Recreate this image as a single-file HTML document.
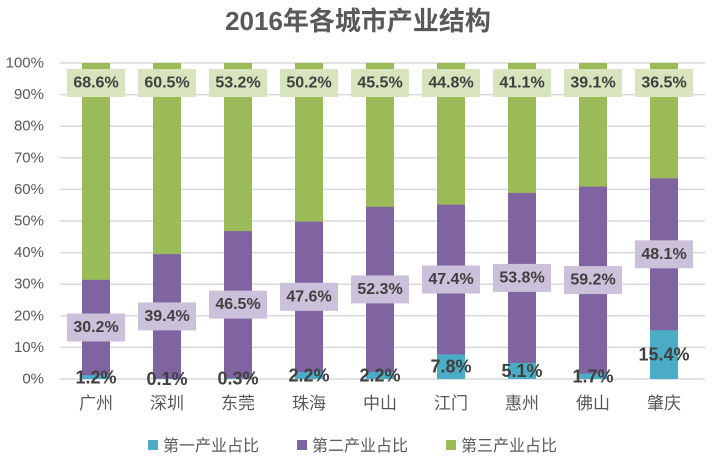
<!DOCTYPE html>
<html><head><meta charset="utf-8"><style>
html,body{margin:0;padding:0;background:#fff;}
svg{display:block;font-family:"Liberation Sans","Noto Sans CJK SC",sans-serif;}
.ax{font-size:15px;fill:#595959;}
.cat{font-size:17px;fill:#595959;}
.lb{font-size:16px;font-weight:bold;fill:#404040;}
.bl{font-size:18px;font-weight:bold;fill:#404040;}
</style></head><body>
<svg width="716" height="464" viewBox="0 0 716 464">
<text x="358" y="30" text-anchor="middle" font-size="26" font-weight="bold" fill="#595959">2016年各城市产业结构</text>
<g stroke="#d9d9d9" stroke-width="1.5">
<line x1="60" x2="705" y1="63" y2="63"/><line x1="60" x2="705" y1="94.6" y2="94.6"/><line x1="60" x2="705" y1="126.2" y2="126.2"/><line x1="60" x2="705" y1="157.8" y2="157.8"/><line x1="60" x2="705" y1="189.4" y2="189.4"/><line x1="60" x2="705" y1="221" y2="221"/><line x1="60" x2="705" y1="252.6" y2="252.6"/><line x1="60" x2="705" y1="284.2" y2="284.2"/><line x1="60" x2="705" y1="315.8" y2="315.8"/><line x1="60" x2="705" y1="347.4" y2="347.4"/><line x1="60" x2="705" y1="379" y2="379"/>
</g>
<g class="ax" text-anchor="end" dominant-baseline="central">
<text x="44" y="63">100%</text><text x="44" y="94.6">90%</text><text x="44" y="126.2">80%</text><text x="44" y="157.8">70%</text><text x="44" y="189.4">60%</text><text x="44" y="221">50%</text><text x="44" y="252.6">40%</text><text x="44" y="284.2">30%</text><text x="44" y="315.8">20%</text><text x="44" y="347.4">10%</text><text x="44" y="379">0%</text>
</g>
<g fill="#9bbb59">
<rect x="82" y="63" width="28" height="316"/><rect x="153" y="63" width="28" height="316"/><rect x="224" y="63" width="28" height="316"/><rect x="295" y="63" width="28" height="316"/><rect x="366" y="63" width="28" height="316"/><rect x="437" y="63" width="28" height="316"/><rect x="508" y="63" width="28" height="316"/><rect x="579" y="63" width="28" height="316"/><rect x="650" y="63" width="28" height="316"/>
</g>
<g fill="#8064a2">
<rect x="82" y="279.8" width="28" height="99.2"/><rect x="153" y="254.2" width="28" height="124.8"/><rect x="224" y="231.1" width="28" height="147.9"/><rect x="295" y="221.6" width="28" height="157.4"/><rect x="366" y="206.8" width="28" height="172.2"/><rect x="437" y="204.6" width="28" height="174.4"/><rect x="508" y="192.9" width="28" height="186.1"/><rect x="579" y="186.6" width="28" height="192.4"/><rect x="650" y="178.3" width="28" height="200.7"/>
</g>
<g fill="#4bacc6">
<rect x="82" y="375.2" width="28" height="3.8"/><rect x="153" y="378.7" width="28" height="0.3"/><rect x="224" y="378.1" width="28" height="0.9"/><rect x="295" y="372" width="28" height="7"/><rect x="366" y="372" width="28" height="7"/><rect x="437" y="354.4" width="28" height="24.6"/><rect x="508" y="362.9" width="28" height="16.1"/><rect x="579" y="373.6" width="28" height="5.4"/><rect x="650" y="330.3" width="28" height="48.7"/>
</g>
<g fill="#d7e4bd">
<rect x="67" y="69" width="58" height="28"/><rect x="138" y="69" width="58" height="28"/><rect x="209" y="69" width="58" height="28"/><rect x="280" y="69" width="58" height="28"/><rect x="351" y="69" width="58" height="28"/><rect x="422" y="69" width="58" height="28"/><rect x="493" y="69" width="58" height="28"/><rect x="564" y="69" width="58" height="28"/><rect x="635" y="69" width="58" height="28"/>
</g>
<g fill="#ccc1da">
<rect x="67" y="313.5" width="58" height="28"/><rect x="138" y="302.4" width="58" height="28"/><rect x="209" y="290.6" width="58" height="28"/><rect x="280" y="282.8" width="58" height="28"/><rect x="351" y="275.4" width="58" height="28"/><rect x="422" y="265.5" width="58" height="28"/><rect x="493" y="263.9" width="58" height="28"/><rect x="564" y="266.1" width="58" height="28"/><rect x="635" y="240.3" width="58" height="28"/>
</g>
<g class="lb" text-anchor="middle" dominant-baseline="central">
<text x="96" y="83">68.6%</text><text x="167" y="83">60.5%</text><text x="238" y="83">53.2%</text><text x="309" y="83">50.2%</text><text x="380" y="83">45.5%</text><text x="451" y="83">44.8%</text><text x="522" y="83">41.1%</text><text x="593" y="83">39.1%</text><text x="664" y="83">36.5%</text>
<text x="96" y="327.5">30.2%</text><text x="167" y="316.4">39.4%</text><text x="238" y="304.6">46.5%</text><text x="309" y="296.8">47.6%</text><text x="380" y="289.4">52.3%</text><text x="451" y="279.5">47.4%</text><text x="522" y="277.9">53.8%</text><text x="593" y="280.1">59.2%</text><text x="664" y="254.3">48.1%</text>
</g>
<g class="bl" text-anchor="middle" dominant-baseline="central">
<text x="96" y="377.5">1.2%</text><text x="167" y="379">0.1%</text><text x="238" y="378.5">0.3%</text><text x="309" y="375.5">2.2%</text><text x="380" y="375.5">2.2%</text><text x="451" y="366.7">7.8%</text><text x="522" y="370.9">5.1%</text><text x="593" y="376.3">1.7%</text><text x="664" y="354.7">15.4%</text>
</g>
<g class="cat" text-anchor="middle">
<text x="96" y="409">广州</text><text x="167" y="409">深圳</text><text x="238" y="409">东莞</text><text x="309" y="409">珠海</text><text x="380" y="409">中山</text><text x="451" y="409">江门</text><text x="522" y="409">惠州</text><text x="593" y="409">佛山</text><text x="664" y="409">肇庆</text>
</g>
<rect x="148" y="440" width="10" height="10" fill="#4bacc6"/>
<text x="163" y="451" font-size="16" fill="#595959">第一产业占比</text>
<rect x="297" y="440" width="10" height="10" fill="#8064a2"/>
<text x="312" y="451" font-size="16" fill="#595959">第二产业占比</text>
<rect x="446" y="440" width="10" height="10" fill="#9bbb59"/>
<text x="461" y="451" font-size="16" fill="#595959">第三产业占比</text>
</svg>
</body></html>
